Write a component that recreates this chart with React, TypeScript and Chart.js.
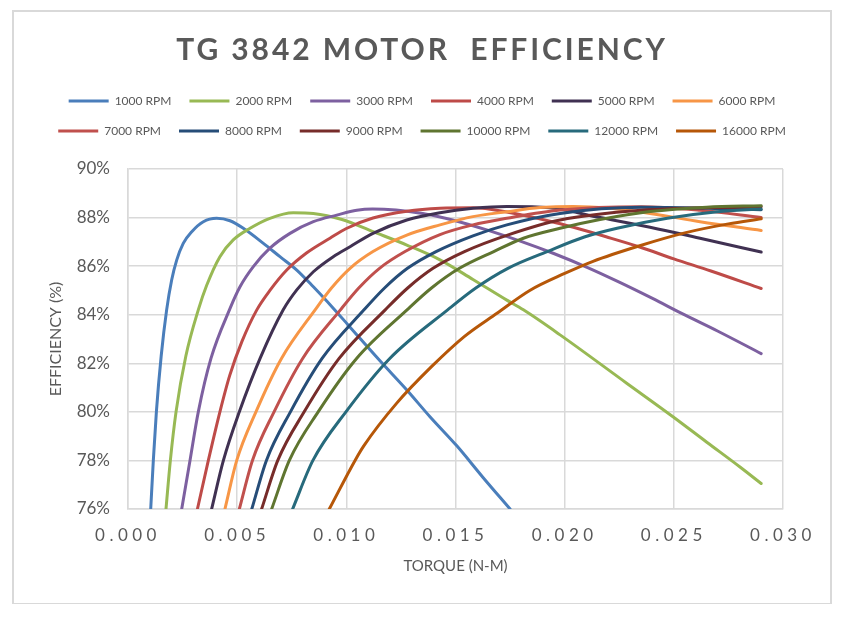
import { useEffect, useRef } from 'react';
import { Chart, registerables } from 'chart.js';

Chart.register(...registerables);

const TEXT = '#595959';
const GRID = '#d9d9d9';
const FONT = 'Lato, "Open Sans", sans-serif';

const TITLE = 'TG 3842 MOTOR  EFFICIENCY';
const X_TITLE = 'TORQUE (N-M)';
const Y_TITLE = 'EFFICIENCY (%)';

const xTicks = [0, 0.005, 0.01, 0.015, 0.02, 0.025, 0.03];
const yTicks = [76, 78, 80, 82, 84, 86, 88, 90];

const rpmLabels = [
  '1000 RPM', '2000 RPM', '3000 RPM', '4000 RPM', '5000 RPM', '6000 RPM',
  '7000 RPM', '8000 RPM', '9000 RPM', '10000 RPM', '12000 RPM', '16000 RPM',
];

const rpmColors = [
  '#4a7ebb', '#98b954', '#7d60a0', '#be4b48', '#403152', '#f79646',
  '#c0504d', '#264d78', '#772c2a', '#5f7530', '#276a7c', '#b65708',
];

// torque (N-m) / efficiency (%)
const torque1000 = [0.00104, 0.00116, 0.0013, 0.00152, 0.00177, 0.002, 0.00223, 0.00253, 0.00292, 0.00345, 0.00406, 0.00467, 0.00528, 0.0062, 0.00696, 0.00773, 0.00849, 0.00941, 0.0101, 0.01154, 0.01277, 0.01383, 0.01506, 0.01626, 0.0175];
const eff1000 = [76.0, 78.0, 80.0, 82.3, 84.2, 85.43, 86.25, 86.94, 87.42, 87.83, 87.97, 87.87, 87.56, 86.94, 86.39, 85.84, 85.15, 84.26, 83.56, 82.1, 80.9, 79.8, 78.6, 77.3, 76.0];

const torque2000 = [0.00174, 0.00194, 0.0022, 0.00265, 0.00322, 0.0036, 0.00421, 0.00482, 0.00559, 0.0065, 0.00757, 0.00849, 0.0098, 0.01122, 0.01277, 0.01429, 0.0158, 0.01735, 0.01811, 0.01979, 0.02284, 0.02496, 0.02651, 0.02803, 0.029];
const eff2000 = [76.0, 78.0, 80.0, 82.3, 84.2, 85.2, 86.39, 87.08, 87.56, 87.97, 88.2, 88.17, 87.92, 87.42, 86.87, 86.26, 85.45, 84.6, 84.2, 83.17, 81.18, 79.8, 78.75, 77.73, 77.05];

const torque3000 = [0.00246, 0.00284, 0.00322, 0.0038, 0.00467, 0.00513, 0.00574, 0.0065, 0.00742, 0.00849, 0.00956, 0.01048, 0.0112, 0.0135, 0.015, 0.0165, 0.018, 0.0195, 0.021, 0.0225, 0.024, 0.0255, 0.027, 0.029];
const eff3000 = [76.0, 78.0, 80.0, 82.2, 84.25, 85.15, 85.98, 86.74, 87.35, 87.83, 88.1, 88.3, 88.35, 88.17, 87.87, 87.47, 87.02, 86.52, 85.96, 85.34, 84.68, 83.99, 83.33, 82.4];

const torque4000 = [0.00318, 0.00368, 0.00421, 0.00466, 0.00522, 0.0059, 0.0065, 0.00727, 0.00819, 0.00925, 0.01, 0.01122, 0.01277, 0.01429, 0.0158, 0.0174, 0.01933, 0.0204, 0.0219, 0.0234, 0.025, 0.0267, 0.029];
const eff4000 = [76.0, 78.0, 80.0, 81.5, 82.9, 84.2, 85.0, 85.84, 86.55, 87.15, 87.55, 87.98, 88.26, 88.38, 88.4, 88.22, 87.85, 87.6, 87.21, 86.8, 86.3, 85.8, 85.08];

const torque5000 = [0.00383, 0.00437, 0.0051, 0.00605, 0.00711, 0.00773, 0.00849, 0.0094, 0.01017, 0.01122, 0.01277, 0.01429, 0.0158, 0.01735, 0.01933, 0.02162, 0.02391, 0.0262, 0.029];
const eff5000 = [76.0, 78.0, 80.0, 82.2, 84.2, 85.02, 85.77, 86.39, 86.8, 87.35, 87.9, 88.2, 88.38, 88.46, 88.4, 88.0, 87.6, 87.15, 86.58];

const torque6000 = [0.00444, 0.00498, 0.00586, 0.00703, 0.00857, 0.00932, 0.01017, 0.01122, 0.01277, 0.01429, 0.0158, 0.01735, 0.01887, 0.02039, 0.02208, 0.02391, 0.0262, 0.029];
const eff6000 = [76.0, 78.0, 80.0, 82.2, 84.2, 85.1, 85.91, 86.6, 87.28, 87.7, 88.04, 88.24, 88.41, 88.46, 88.38, 88.17, 87.83, 87.47];

const torque7000 = [0.0051, 0.0057, 0.00669, 0.008, 0.00973, 0.01057, 0.01152, 0.01269, 0.01429, 0.0158, 0.01735, 0.01979, 0.0235, 0.0262, 0.029];
const eff7000 = [76.0, 78.0, 80.0, 82.2, 84.2, 85.1, 85.91, 86.6, 87.3, 87.7, 87.97, 88.31, 88.45, 88.3, 88.0];

const torque8000 = [0.00567, 0.00634, 0.00744, 0.00889, 0.01081, 0.01175, 0.0128, 0.01411, 0.0158, 0.01735, 0.01979, 0.0235, 0.029];
const eff8000 = [76.0, 78.0, 80.0, 82.2, 84.2, 85.1, 85.91, 86.6, 87.25, 87.7, 88.17, 88.42, 88.32];

const torque9000 = [0.00612, 0.00686, 0.00807, 0.00967, 0.01178, 0.01281, 0.01397, 0.01541, 0.01745, 0.01979, 0.0235, 0.029];
const eff9000 = [76.0, 78.0, 80.0, 82.2, 84.2, 85.1, 85.91, 86.6, 87.3, 87.9, 88.3, 88.45];

const torque10000 = [0.00658, 0.00739, 0.00871, 0.01047, 0.01278, 0.0139, 0.01518, 0.01675, 0.01811, 0.01979, 0.02162, 0.02391, 0.0265, 0.029];
const eff10000 = [76.0, 78.0, 80.0, 82.2, 84.2, 85.1, 85.91, 86.6, 87.15, 87.56, 87.92, 88.25, 88.43, 88.49];

const torque12000 = [0.00754, 0.00847, 0.00998, 0.01199, 0.01464, 0.01593, 0.0174, 0.0192, 0.0209, 0.0224, 0.0247, 0.027, 0.029];
const eff12000 = [76.0, 78.0, 80.0, 82.2, 84.2, 85.1, 85.91, 86.6, 87.2, 87.56, 87.97, 88.24, 88.35];

const torque16000 = [0.00922, 0.0104, 0.0108, 0.0123, 0.0139, 0.0154, 0.0169, 0.0184, 0.02, 0.0213, 0.0234, 0.0255, 0.0275, 0.029];
const eff16000 = [76.0, 78.0, 78.6, 80.35, 81.86, 83.1, 84.06, 85.0, 85.7, 86.2, 86.83, 87.37, 87.74, 87.95];

const torqueSeries = [torque1000, torque2000, torque3000, torque4000, torque5000, torque6000, torque7000, torque8000, torque9000, torque10000, torque12000, torque16000];
const effSeries = [eff1000, eff2000, eff3000, eff4000, eff5000, eff6000, eff7000, eff8000, eff9000, eff10000, eff12000, eff16000];

// Excel-ish touches: spaced-out title / x labels, extra room under the legend
const tweaks = {
  id: 'tweaks',
  beforeLayout(chart: any) {
    const legend = chart.legend;
    if (legend && !legend.__tweaked) {
      const fit = legend.fit;
      legend.fit = function () {
        fit.call(this);
        this.height += 22;
      };
      legend.__tweaked = true;
    }
    const title = chart.titleBlock;
    if (title && !title.__tweaked) {
      const draw = title.draw;
      title.draw = function (...args: any[]) {
        const ctx = this.ctx;
        ctx.save();
        ctx.letterSpacing = '2.9px';
        draw.apply(this, args);
        ctx.restore();
      };
      title.__tweaked = true;
    }
  },
  beforeDraw(chart: any) {
    const x = chart.scales.x;
    if (x && !x.__tweaked) {
      const drawLabels = x.drawLabels;
      x.drawLabels = function (...args: any[]) {
        const ctx = this.ctx;
        ctx.save();
        ctx.letterSpacing = '4.5px';
        drawLabels.apply(this, args);
        ctx.restore();
      };
      x.__tweaked = true;
    }
  },
};

const frameLine = { position: 'absolute' as const, background: '#d9d9d9' };

export default function App() {
  const canvasRef = useRef<HTMLCanvasElement>(null);

  useEffect(() => {
    if (!canvasRef.current) return;

    // later series drawn on top, like Excel
    const datasets = rpmLabels
      .map((label, i) => ({
        label,
        data: torqueSeries[i].map((x, j) => ({ x, y: effSeries[i][j] })),
        borderColor: rpmColors[i],
        backgroundColor: rpmColors[i],
        borderWidth: 3,
        pointRadius: 0,
        cubicInterpolationMode: 'monotone' as const,
        borderCapStyle: 'round' as const,
        borderJoinStyle: 'round' as const,
        fill: false,
      }))
      .reverse();

    const chart = new Chart(canvasRef.current, {
      type: 'line',
      data: { datasets },
      plugins: [tweaks],
      options: {
        animation: false,
        responsive: true,
        maintainAspectRatio: false,
        events: [],
        layout: { padding: { top: 8, left: 0, right: 0, bottom: 0 } },
        plugins: {
          title: {
            display: true,
            text: TITLE,
            color: TEXT,
            font: { family: FONT, size: 30, weight: 'bold', lineHeight: 1.2 },
            padding: { top: 12, bottom: 9 },
          },
          legend: {
            position: 'top',
            labels: {
              color: TEXT,
              font: { family: FONT, size: 12 },
              usePointStyle: true,
              pointStyle: 'line',
              pointStyleWidth: 40,
              padding: 18,
              sort: (a, b) => (b.datasetIndex ?? 0) - (a.datasetIndex ?? 0),
            },
          },
          tooltip: { enabled: false },
        },
        scales: {
          x: {
            type: 'linear',
            min: 0,
            max: 0.03,
            grid: { color: GRID, lineWidth: 1.5, drawTicks: false },
            border: { color: GRID, width: 1.5 },
            ticks: {
              color: TEXT,
              font: { family: FONT, size: 17 },
              padding: 16,
              callback: (v) => Number(v).toFixed(3),
            },
            afterBuildTicks: (s) => {
              s.ticks = xTicks.map((value) => ({ value }));
            },
            afterFit: (s) => {
              s.height = 95;
            },
            title: {
              display: true,
              text: X_TITLE,
              color: TEXT,
              font: { family: FONT, size: 15 },
              padding: { top: 0, bottom: 29 },
            },
          },
          y: {
            min: 76,
            max: 90,
            grid: { color: GRID, lineWidth: 1.5, drawTicks: false },
            border: { color: GRID, width: 1.5 },
            ticks: {
              color: TEXT,
              font: { family: FONT, size: 17 },
              padding: 18,
              callback: (v) => `${v}%`,
            },
            afterBuildTicks: (s) => {
              s.ticks = yTicks.map((value) => ({ value }));
            },
            afterFit: (s) => {
              s.width = 114;
            },
            title: {
              display: true,
              text: Y_TITLE,
              color: TEXT,
              font: { family: FONT, size: 16 },
              padding: { top: 32, bottom: 0 },
            },
          },
          y2: {
            position: 'right',
            grid: { display: false },
            border: { display: false },
            ticks: { display: false },
            afterFit: (s) => {
              s.width = 47;
            },
          },
        },
      },
    });

    return () => chart.destroy();
  }, []);

  return (
    <div
      style={{
        position: 'relative',
        left: 4,
        top: 2,
        width: 820,
        height: 596,
        background: '#fff',
      }}
    >
      <div style={{ position: 'absolute', left: 2, top: 2, width: 816, height: 592 }}>
        <canvas ref={canvasRef} style={{ display: 'block' }} />
      </div>
      {/* chart frame */}
      <div style={{ ...frameLine, left: 0, top: 0, width: 820, height: 2 }} />
      <div style={{ ...frameLine, left: 0, top: 593, width: 820, height: 3 }} />
      <div style={{ ...frameLine, left: 0, top: 0, width: 2, height: 596 }} />
      <div style={{ ...frameLine, left: 818, top: 0, width: 2, height: 596 }} />
    </div>
  );
}
